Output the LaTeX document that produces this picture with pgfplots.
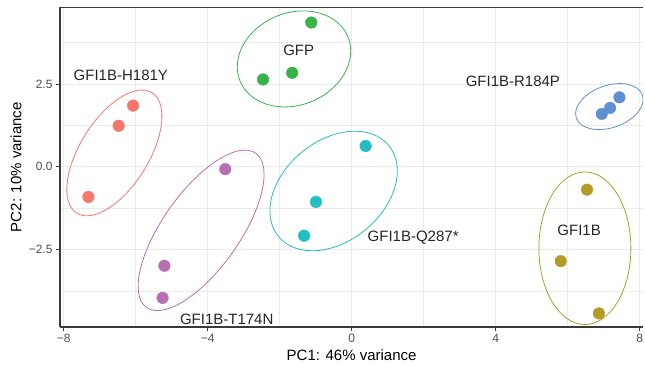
\documentclass[border=0pt]{standalone}
\usepackage{pgfplots}
\pgfplotsset{compat=1.18}
\usepackage{fontspec}
\setmainfont{Liberation Sans}
\definecolor{cH}{HTML}{F8766D}
\definecolor{cB}{HTML}{B49B28}
\definecolor{cG}{HTML}{37B34A}
\definecolor{cQ}{HTML}{23BEC3}
\definecolor{cR}{HTML}{5F91D2}
\definecolor{cT}{HTML}{B96EB4}
\definecolor{axisgrey}{HTML}{3A3A3A}
\definecolor{gridgrey}{HTML}{EBEBEB}
\definecolor{ticktext}{HTML}{4D4D4D}
\begin{document}
\begin{tikzpicture}
\useasboundingbox (0,0) rectangle (645pt,365pt);
\begin{axis}[
 at={(60pt,38pt)}, anchor=south west,
 scale only axis, width=583.2pt, height=319.7pt,
 xmin=-8.1, xmax=8.1, ymin=-4.84, ymax=4.82,
 axis x line*=bottom, axis y line*=left,
 axis line style={draw=axisgrey, line width=1.1pt, -},
 xtick={-8,-4,0,4,8}, xticklabels={−8,−4,0,4,8},
 ytick={-2.5,0,2.5}, yticklabels={−2.5,0.0,2.5},
 minor xtick={-6,-2,2,6}, minor ytick={-3.75,-1.25,1.25,3.75},
 grid=both,
 major grid style={draw=gridgrey, line width=1.1pt},
 minor grid style={draw=gridgrey, line width=0.55pt},
 tick align=outside, major tick length=4pt, minor tick length=0pt,
 tick style={draw=axisgrey, line width=1.1pt},
 ticklabel style={font=\fontsize{12}{14}\selectfont, text=ticktext},
 xlabel={PC1: 46\% variance}, ylabel={PC2: 10\% variance},
 label style={font=\fontsize{15}{18}\selectfont},
 xlabel style={at={(axis description cs:0.5,-0.0876)}, anchor=center},
 ylabel style={at={(axis description cs:-0.0755,0.5)}, anchor=center},
 every node near coord/.style={},
]
% ellipses
\draw[cH, line width=0.8pt, rotate around={58:(axis cs:-6.59,0.42)}] (axis cs:-6.59,0.42) ellipse [x radius=71pt, y radius=34.3pt];
\draw[cT, line width=0.8pt, rotate around={54.7:(axis cs:-4.18,-1.92)}] (axis cs:-4.18,-1.92) ellipse [x radius=94.5pt, y radius=38.4pt];
\draw[cG, line width=0.8pt, rotate around={22.2:(axis cs:-1.60,3.26)}] (axis cs:-1.60,3.26) ellipse [x radius=58.3pt, y radius=46.1pt];
\draw[cQ, line width=0.8pt, rotate around={39.6:(axis cs:-0.50,-0.73)}] (axis cs:-0.50,-0.73) ellipse [x radius=71.5pt, y radius=50.2pt];
\draw[cR, line width=0.8pt, rotate around={19.1:(axis cs:7.16,1.82)}] (axis cs:7.16,1.82) ellipse [x radius=35pt, y radius=21.1pt];
\draw[cB, line width=0.8pt] (axis cs:6.48,-2.46) ellipse [x radius=46pt, y radius=76.3pt];
% points
\addplot[only marks, mark=*, mark size=5.8pt, color=cH] coordinates {(-6.07,1.85) (-6.47,1.24) (-7.31,-0.91)};
\addplot[only marks, mark=*, mark size=5.8pt, color=cT] coordinates {(-5.20,-2.99) (-5.25,-3.96) (-3.51,-0.07)};
\addplot[only marks, mark=*, mark size=5.8pt, color=cG] coordinates {(-1.12,4.36) (-1.65,2.84) (-2.46,2.64)};
\addplot[only marks, mark=*, mark size=5.8pt, color=cQ] coordinates {(0.39,0.63) (-0.99,-1.06) (-1.32,-2.08)};
\addplot[only marks, mark=*, mark size=5.8pt, color=cR] coordinates {(7.44,2.10) (7.18,1.78) (6.95,1.60)};
\addplot[only marks, mark=*, mark size=5.8pt, color=cB] coordinates {(6.54,-0.69) (5.81,-2.85) (6.87,-4.43)};
% labels
\begin{scope}[every node/.style={font=\fontsize{15}{18}\selectfont, text=black!85, anchor=base}]
\node at (axis cs:-6.41,2.62) {GFI1B-H181Y};
\node at (axis cs:-1.47,3.37) {GFP};
\node at (axis cs:4.48,2.44) {GFI1B-R184P};
\node at (axis cs:1.71,-2.27) {GFI1B-Q287*};
\node at (axis cs:6.32,-2.06) {GFI1B};
\node at (axis cs:-3.47,-4.75) {GFI1B-T174N};
\end{scope}
\draw[axisgrey, line width=1.1pt] (rel axis cs:0,1) -- (rel axis cs:1,1);
\end{axis}
\end{tikzpicture}
\end{document}
